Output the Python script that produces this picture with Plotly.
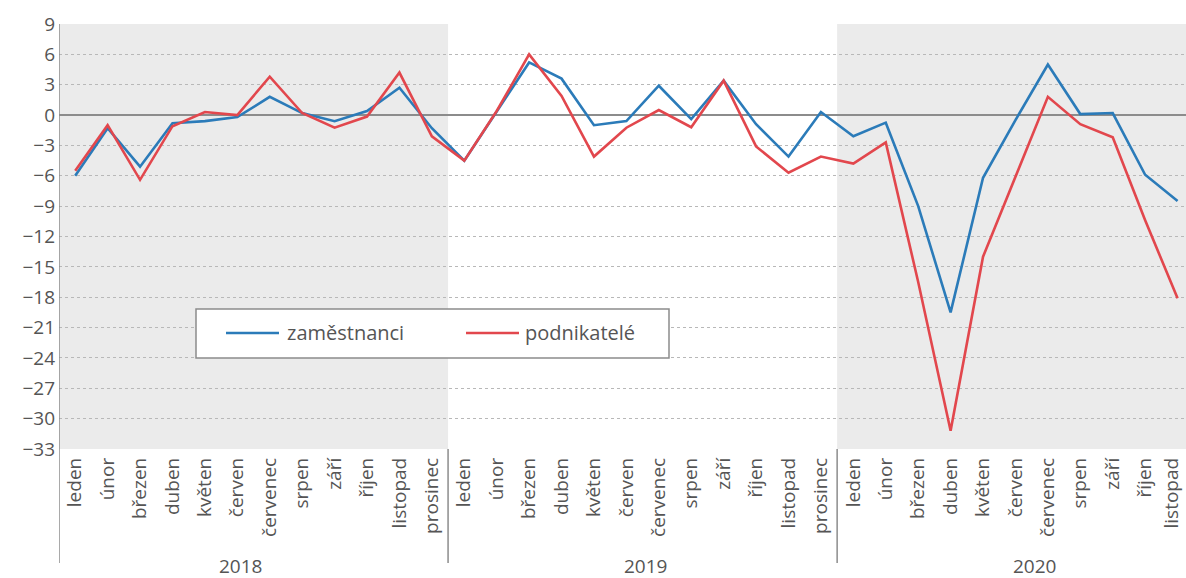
import plotly.graph_objects as go

months = ["leden", "únor", "březen", "duben", "květen", "červen", "červenec",
          "srpen", "září", "říjen", "listopad", "prosinec"]
years = ["2018", "2019", "2020"]

zamestnanci_2018 = [-6.0, -1.3, -5.1, -0.8, -0.6, -0.2, 1.8, 0.2, -0.6, 0.4, 2.7, -1.3]
zamestnanci_2019 = [-4.5, 0.4, 5.2, 3.6, -1.0, -0.6, 2.9, -0.4, 3.4, -0.9, -4.1, 0.3]
zamestnanci_2020 = [-2.1, -0.75, -9.0, -19.5, -6.2, -0.5, 5.0, 0.1, 0.2, -5.9, -8.5]

podnikatele_2018 = [-5.5, -1.0, -6.4, -1.1, 0.3, 0.0, 3.8, 0.2, -1.25, -0.15, 4.2, -2.1]
podnikatele_2019 = [-4.5, 0.4, 6.0, 1.9, -4.1, -1.25, 0.5, -1.2, 3.4, -3.1, -5.7, -4.1]
podnikatele_2020 = [-4.8, -2.7, -16.5, -31.2, -14.0, -6.1, 1.8, -0.9, -2.2, -10.4, -18.1]

y_ticks = list(range(9, -34, -3))

zam = zamestnanci_2018 + zamestnanci_2019 + zamestnanci_2020
pod = podnikatele_2018 + podnikatele_2019 + podnikatele_2020
x = list(range(len(zam)))
ticktext = (months * 3)[:len(zam)]

BLUE = "#2b7bb9"
RED = "#e2474d"
GREY_TXT = "#555555"
FONT = "Open Sans"
MONTH_SIZE = 19

# pixel helpers for the layout (plot area: x 59..1186, y 24..449)
L, R, T, B = 59, 1186, 24, 449
def px(v):
    return (v - L) / (R - L)
def py(v):
    return (B - v) / (B - T)

fig = go.Figure()
fig.add_trace(go.Scatter(x=x, y=zam, mode="lines", name="zaměstnanci",
                         line=dict(color=BLUE, width=2.6), showlegend=False))
fig.add_trace(go.Scatter(x=x, y=pod, mode="lines", name="podnikatelé",
                         line=dict(color=RED, width=2.6), showlegend=False))

shapes = []
# shaded year blocks
for x0, x1 in [(-0.5, 11.5), (23.5, 35.5)]:
    shapes.append(dict(type="rect", xref="x", yref="y", x0=x0, x1=x1, y0=-33, y1=9,
                       fillcolor="#ebebeb", line=dict(width=0), layer="below"))
# year separators (extend below axis)
for xs in [-0.5, 11.5, 23.5]:
    shapes.append(dict(type="line", xref="x", yref="paper", x0=xs, x1=xs,
                       y0=py(563), y1=0 if xs != -0.5 else 1,
                       line=dict(color="#8c8c8c", width=1.5)))
# manual legend
shapes.append(dict(type="rect", xref="paper", yref="paper",
                   x0=px(196), x1=px(669), y0=py(358), y1=py(309),
                   fillcolor="white", line=dict(color="#8c8c8c", width=1.5)))
shapes.append(dict(type="line", xref="paper", yref="paper",
                   x0=px(226), x1=px(279), y0=py(333), y1=py(333),
                   line=dict(color=BLUE, width=2.6)))
shapes.append(dict(type="line", xref="paper", yref="paper",
                   x0=px(466), x1=px(519), y0=py(333), y1=py(333),
                   line=dict(color=RED, width=2.6)))

annotations = [
    dict(xref="paper", yref="paper", x=px(285), y=py(332), text="zaměstnanci",
         showarrow=False, xanchor="left", yanchor="middle",
         font=dict(family=FONT, size=20, color=GREY_TXT)),
    dict(xref="paper", yref="paper", x=px(523), y=py(332), text="podnikatelé",
         showarrow=False, xanchor="left", yanchor="middle",
         font=dict(family=FONT, size=20, color=GREY_TXT)),
]
for yr, xc in zip(years, [5.1, 17.6, 29.6]):
    annotations.append(dict(xref="x", yref="paper", x=xc, y=py(566), text=yr,
                            showarrow=False, xanchor="center", yanchor="middle",
                            font=dict(family=FONT, size=19, color=GREY_TXT)))
# last month label sits at the right edge of the picture
annotations.append(dict(xref="paper", yref="paper", x=1.0, y=py(456),
                        text=ticktext[-1], textangle=-90, showarrow=False,
                        xanchor="right", yanchor="top",
                        font=dict(family=FONT, size=MONTH_SIZE, color=GREY_TXT)))

fig.update_layout(
    width=1186, height=578,
    margin=dict(l=L, r=1186 - R, t=T, b=578 - B, pad=0),
    plot_bgcolor="white", paper_bgcolor="white",
    font=dict(family=FONT, size=18, color=GREY_TXT),
    shapes=shapes, annotations=annotations,
    xaxis=dict(range=[-0.5, 34.26], tickmode="array", tickvals=x[:-1],
               ticktext=ticktext[:-1], ticklabelstandoff=4,
               tickangle=-90, showgrid=False, zeroline=False, showline=False,
               ticks="", tickfont=dict(family=FONT, size=MONTH_SIZE, color=GREY_TXT)),
    yaxis=dict(range=[-33, 9], tickmode="array", tickvals=y_ticks,
               showgrid=True, gridcolor="#b8b8b8", griddash="dot", gridwidth=1.3,
               zeroline=True, zerolinecolor="#8c8c8c", zerolinewidth=2,
               showline=False, ticks="", ticklabelstandoff=3,
               tickfont=dict(family=FONT, size=19, color=GREY_TXT)),
)

fig.write_html("out.html")
